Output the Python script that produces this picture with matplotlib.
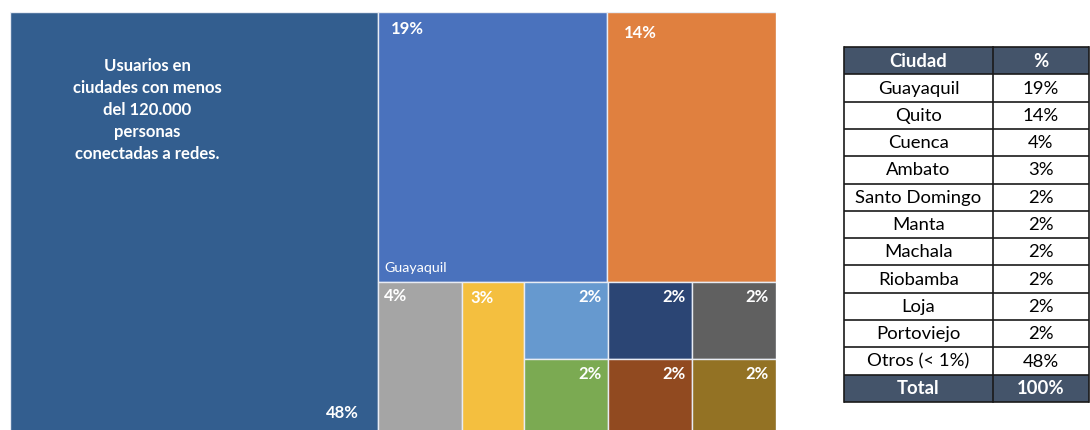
import matplotlib
matplotlib.use("Agg")
import matplotlib.pyplot as plt
from matplotlib.patches import Rectangle

plt.rcParams['font.family'] = ['Lato', 'DejaVu Sans']

# Share of users by city (percent)
ciudades = ["Guayaquil", "Quito", "Cuenca", "Ambato", "Santo Domingo", "Manta",
            "Machala", "Riobamba", "Loja", "Portoviejo", "Otros (< 1%)"]
porcentajes = [19, 14, 4, 3, 2, 2, 2, 2, 2, 2, 48]
colores = ["#4A72BD", "#E0803F", "#A5A5A5", "#F4BF3F", "#6699CF", "#7BAA52",
           "#2B4574", "#914A20", "#606060", "#937224", "#335E8F"]
titulo_otros = "Usuarios en\nciudades con menos\ndel 120.000\npersonas\nconectadas a redes."
cab_ciudad, cab_pct = "Ciudad", "%"
total_label = "Total"

W, H, DPI = 1090, 430, 100
fig = plt.figure(figsize=(W / DPI, H / DPI), dpi=DPI)
fig.patch.set_facecolor("white")

# ---------------- treemap ----------------
ax = fig.add_axes([10 / W, -7 / H, 766 / W, 425 / H])
ax.set_xlim(0, 1)
ax.set_ylim(0, 1)
ax.axis("off")

val = dict(zip(ciudades, porcentajes))
col = dict(zip(ciudades, colores))
total = sum(porcentajes)

rects = {}
# large block on the left: "Otros"
w_otros = val["Otros (< 1%)"] / total
rects["Otros (< 1%)"] = (0, 0, w_otros, 1)
# right part
right_w = 1 - w_otros
right_sum = total - val["Otros (< 1%)"]
top = ["Guayaquil", "Quito"]
top_sum = sum(val[c] for c in top)
h_top = top_sum / right_sum
x = w_otros
for c in top:
    w = right_w * val[c] / top_sum
    rects[c] = (x, 1 - h_top, w, h_top)
    x += w
# bottom row
bottom_sum = right_sum - top_sum
h_bot = 1 - h_top
x = w_otros
for c in ["Cuenca", "Ambato"]:
    w = right_w * val[c] / bottom_sum
    rects[c] = (x, 0, w, h_bot)
    x += w
pares = [("Santo Domingo", "Manta"), ("Machala", "Riobamba"), ("Loja", "Portoviejo")]
for a, b in pares:
    s = val[a] + val[b]
    w = right_w * s / bottom_sum
    ha_ = h_bot * val[a] / s
    rects[a] = (x, h_bot - ha_, w, ha_)
    rects[b] = (x, 0, w, h_bot - ha_)
    x += w

for c, (x0, y0, w, h) in rects.items():
    ax.add_patch(Rectangle((x0, y0), w, h, facecolor=col[c], edgecolor="#E8ECF4",
                           linewidth=1.0))

lab_kw = dict(color="white", fontsize=12, fontweight="bold", textcoords="offset pixels")

def pct(c):
    return f"{val[c]}%"

# top-left labels
for c, off in [("Guayaquil", (13, -17)), ("Quito", (17, -21))]:
    x0, y0, w, h = rects[c]
    ax.annotate(pct(c), (x0, y0 + h), xytext=off, ha="left", va="center", **lab_kw)
for c, off in [("Cuenca", (6, -14)), ("Ambato", (9, -16))]:
    x0, y0, w, h = rects[c]
    ax.annotate(pct(c), (x0, y0 + h), xytext=off, ha="left", va="center", **lab_kw)
for a, b in pares:
    for c in (a, b):
        x0, y0, w, h = rects[c]
        ax.annotate(pct(c), (x0 + w, y0 + h), xytext=(-7, -15), ha="right", va="center", **lab_kw)

x0, y0, w, h = rects["Guayaquil"]
ax.annotate("Guayaquil", (x0, y0), xytext=(7, 14), ha="left", va="center",
            color="white", fontsize=10.3, textcoords="offset pixels")

x0, y0, w, h = rects["Otros (< 1%)"]
ax.annotate(pct("Otros (< 1%)"), (x0 + w, y0), xytext=(-19, 24), ha="right", va="center", **lab_kw)
ax.annotate(titulo_otros, (x0, y0 + h), xytext=(137, -98), ha="center", va="center",
            multialignment="center", linespacing=1.48, **lab_kw)

# ---------------- table ----------------
tx = fig.add_axes([844 / W, 28 / H, 245 / W, 355 / H])
nrows = len(ciudades) + 2
tx.set_xlim(0, 1)
tx.set_ylim(nrows, 0)
tx.axis("off")
split = 0.608
head = "#44546A"

filas = [(cab_ciudad, cab_pct, True)]
filas += [(c, f"{p}%", False) for c, p in zip(ciudades, porcentajes)]
filas.append((total_label, f"{sum(porcentajes)}%", True))

for i, (c, p, dark) in enumerate(filas):
    fc = head if dark else "white"
    tc = "white" if dark else "black"
    fw = "bold" if dark else "normal"
    tx.add_patch(Rectangle((0, i), 1, 1, facecolor=fc, edgecolor="none"))
    tx.text(split / 2, i + 0.52, c, ha="center", va="center", color=tc,
            fontsize=13.3, fontweight=fw)
    tx.text((1 + split) / 2, i + 0.52, p, ha="center", va="center", color=tc,
            fontsize=13.3, fontweight=fw)

for i in range(nrows + 1):
    tx.plot([0, 1], [i, i], color="#1a1a1a", lw=1.2, solid_capstyle="butt", clip_on=False)
tx.plot([0, 0], [0, nrows], color="#1a1a1a", lw=1.2, clip_on=False)
tx.plot([1, 1], [0, nrows], color="#1a1a1a", lw=1.2, clip_on=False)
tx.plot([split, split], [0, nrows], color="#1a1a1a", lw=1.2, clip_on=False)

fig.savefig("out.png", dpi=DPI, facecolor="white")
